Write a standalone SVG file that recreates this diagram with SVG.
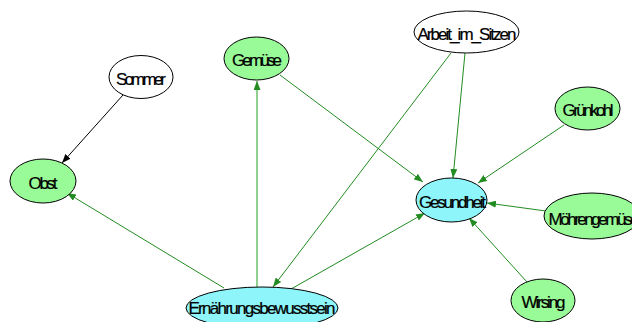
<svg xmlns="http://www.w3.org/2000/svg" width="632" height="322" viewBox="0 0 632 322">
  <defs>
    <marker id="arrow-green" markerUnits="userSpaceOnUse" markerWidth="9" markerHeight="7" refX="9" refY="3.5" orient="auto">
      <path d="M0,0 L9,3.5 L0,7 z" fill="#228b22"/>
    </marker>
    <marker id="arrow-black" markerUnits="userSpaceOnUse" markerWidth="9" markerHeight="7" refX="9" refY="3.5" orient="auto">
      <path d="M0,0 L9,3.5 L0,7 z" fill="#000"/>
    </marker>
  </defs>
  <style>
    .node ellipse { stroke: #000; stroke-width: 1; }
    .plain { fill: #fff; }
    .green { fill: #98fb98; }
    .cyan { fill: #8ef6fb; }
    .node text { font-family: "Liberation Sans", Arial, sans-serif; font-size: 17px; fill: #000; stroke: #000; stroke-width: 0.2; text-anchor: middle; dominant-baseline: central; }
    .edge { stroke: #228b22; stroke-width: 1; fill: none; marker-end: url(#arrow-green); }
    .edge.light { stroke: #8fd08f; stroke-width: 2; }
    .edge.black { stroke: #000; marker-end: url(#arrow-black); }
  </style>
  <rect width="632" height="322" fill="#fff"/>

  <g id="edges">
    <line class="edge black" x1="123" y1="95" x2="62" y2="163"/>
    <line class="edge light" x1="257" y1="287" x2="257" y2="81"/>
    <line class="edge" x1="280" y1="75" x2="423" y2="182"/>
    <line class="edge" x1="465" y1="53" x2="453" y2="178"/>
    <line class="edge" x1="451" y1="53" x2="273" y2="287"/>
    <line class="edge" x1="564" y1="125" x2="478" y2="183"/>
    <line class="edge" x1="546" y1="211" x2="487" y2="203"/>
    <line class="edge" x1="527" y1="282" x2="469" y2="218"/>
    <line class="edge" x1="291" y1="289" x2="425" y2="213"/>
    <line class="edge" x1="224" y1="288" x2="67" y2="193"/>
  </g>

  <g id="node-sommer" class="node">
    <ellipse class="plain" cx="141" cy="77" rx="32" ry="21.5"/>
    <text x="141" y="79" textLength="50" lengthAdjust="spacing">Sommer</text>
  </g>
  <g id="node-gemuese" class="node">
    <ellipse class="green" cx="256.5" cy="58.5" rx="32.5" ry="21.5"/>
    <text x="257" y="60" textLength="50" lengthAdjust="spacing">Gemüse</text>
  </g>
  <g id="node-arbeit" class="node">
    <ellipse class="plain" cx="466.5" cy="32" rx="52.5" ry="21"/>
    <text x="467" y="34" textLength="99" lengthAdjust="spacing">Arbeit_im_Sitzen</text>
  </g>
  <g id="node-gruenkohl" class="node">
    <ellipse class="green" cx="587.5" cy="108.5" rx="32.5" ry="21.5"/>
    <text x="588" y="110" textLength="51" lengthAdjust="spacing">Grünkohl</text>
  </g>
  <g id="node-obst" class="node">
    <ellipse class="green" cx="43" cy="181" rx="33" ry="22"/>
    <text x="43" y="183" textLength="29" lengthAdjust="spacing">Obst</text>
  </g>
  <g id="node-gesundheit" class="node">
    <ellipse class="cyan" cx="451.5" cy="200" rx="35.5" ry="22"/>
    <text x="452.5" y="202" textLength="67" lengthAdjust="spacing">Gesundheit</text>
  </g>
  <g id="node-moehrengemuese" class="node">
    <ellipse class="green" cx="592" cy="216" rx="48" ry="23"/>
    <text x="594" y="219" textLength="91" lengthAdjust="spacing">Möhrengemüse</text>
  </g>
  <g id="node-wirsing" class="node">
    <ellipse class="green" cx="543" cy="300.5" rx="32" ry="21.5"/>
    <text x="543.5" y="302" textLength="44" lengthAdjust="spacing">Wirsing</text>
  </g>
  <g id="node-ernaehrung" class="node">
    <ellipse class="cyan" cx="262" cy="308" rx="76" ry="21"/>
    <text x="262" y="308" textLength="147" lengthAdjust="spacing">Ernährungsbewusstsein</text>
  </g>
</svg>
